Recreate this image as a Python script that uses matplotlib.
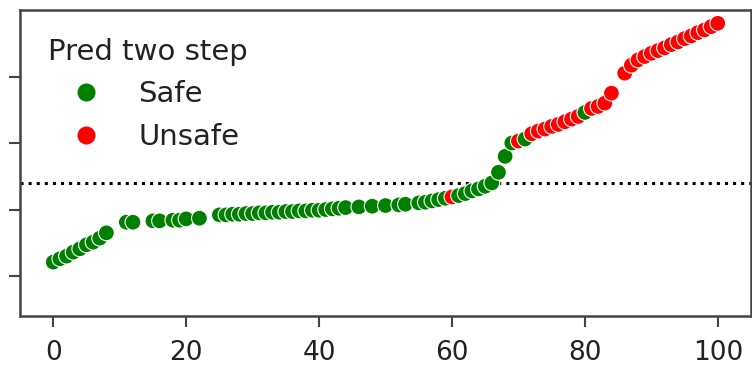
import matplotlib
matplotlib.use("Agg")
import matplotlib.pyplot as plt
from matplotlib.lines import Line2D

# data (index, sorted value, predicted class)
idx = [0, 1, 2, 3, 4, 5, 6, 7, 8,
       11, 12, 15, 16, 18, 19, 20, 22,
       25, 26, 27, 28, 29, 30, 31, 32, 33, 34, 35, 36, 37, 38, 39, 40, 41, 42, 43, 44,
       46, 48, 50, 52, 53, 55, 56, 57, 58, 59, 60, 61, 62, 63, 64, 65, 66, 67, 68, 69,
       70, 71, 72, 73, 74, 75, 76, 77, 78, 79, 80, 81, 82, 83, 84,
       86, 87, 88, 89, 90, 91, 92, 93, 94, 95, 96, 97, 98, 99, 100]
vals = [0.21, 0.26, 0.30, 0.36, 0.41, 0.47, 0.51, 0.57, 0.65,
        0.81, 0.81, 0.83, 0.83, 0.84, 0.84, 0.86, 0.87,
        0.92, 0.92, 0.93, 0.93, 0.94, 0.94, 0.95, 0.95, 0.96, 0.96, 0.97, 0.97, 0.98, 0.98,
        0.99, 0.99, 1.00, 1.01, 1.02, 1.03,
        1.04, 1.05, 1.06, 1.07, 1.08, 1.10, 1.11, 1.13, 1.15, 1.17, 1.19, 1.21, 1.24, 1.28,
        1.31, 1.35, 1.40, 1.56, 1.80, 2.00,
        2.03, 2.06, 2.14, 2.18, 2.21, 2.25, 2.28, 2.32, 2.36, 2.40, 2.46, 2.52, 2.55, 2.60, 2.75,
        3.05, 3.17, 3.25, 3.30, 3.35, 3.39, 3.43, 3.48, 3.52, 3.57, 3.61, 3.66, 3.70, 3.75, 3.80]
unsafe_idx = [60, 70] + [i for i in range(72, 101) if i != 80]
threshold = 1.40

labels = ['Unsafe' if i in unsafe_idx else 'Safe' for i in idx]
palette = {'Safe': 'green', 'Unsafe': 'red'}

fig = plt.figure(figsize=(7.52, 3.68), dpi=100)
ax = fig.add_axes([20/752, 52/368, 731/752, 306/368])

ax.scatter(idx, vals, c=[palette[l] for l in labels], s=130,
           edgecolors='white', linewidths=0.8, zorder=3)
ax.axhline(threshold, color='black', linestyle=':', linewidth=2.2, zorder=2)

ax.set_xlim(-5, 105)
ax.set_ylim(-0.6, 4.0)
ax.set_xticks([0, 20, 40, 60, 80, 100])
ax.set_yticks([0, 1, 2, 3])
ax.tick_params(axis='y', labelleft=False, length=8, width=1.5, color='#444444')
ax.tick_params(axis='x', labelsize=19, length=8, width=1.5, color='#444444',
               labelcolor='#222222', pad=9)
for sp in ax.spines.values():
    sp.set_color('#444444')
    sp.set_linewidth(1.8)

handles = [Line2D([], [], marker='o', linestyle='', markersize=14,
                  markerfacecolor=palette[k], markeredgecolor='white', label=k)
           for k in ['Safe', 'Unsafe']]
leg = ax.legend(handles=handles, title='Pred two step', loc='upper left',
                frameon=False, fontsize=21, title_fontsize=21,
                handlelength=2.6, handletextpad=0.5, labelspacing=0.5,
                borderaxespad=0.55)
leg._legend_box.align = 'left'
for t in leg.get_texts() + [leg.get_title()]:
    t.set_color('#222222')

fig.savefig('out.png', dpi=100)
